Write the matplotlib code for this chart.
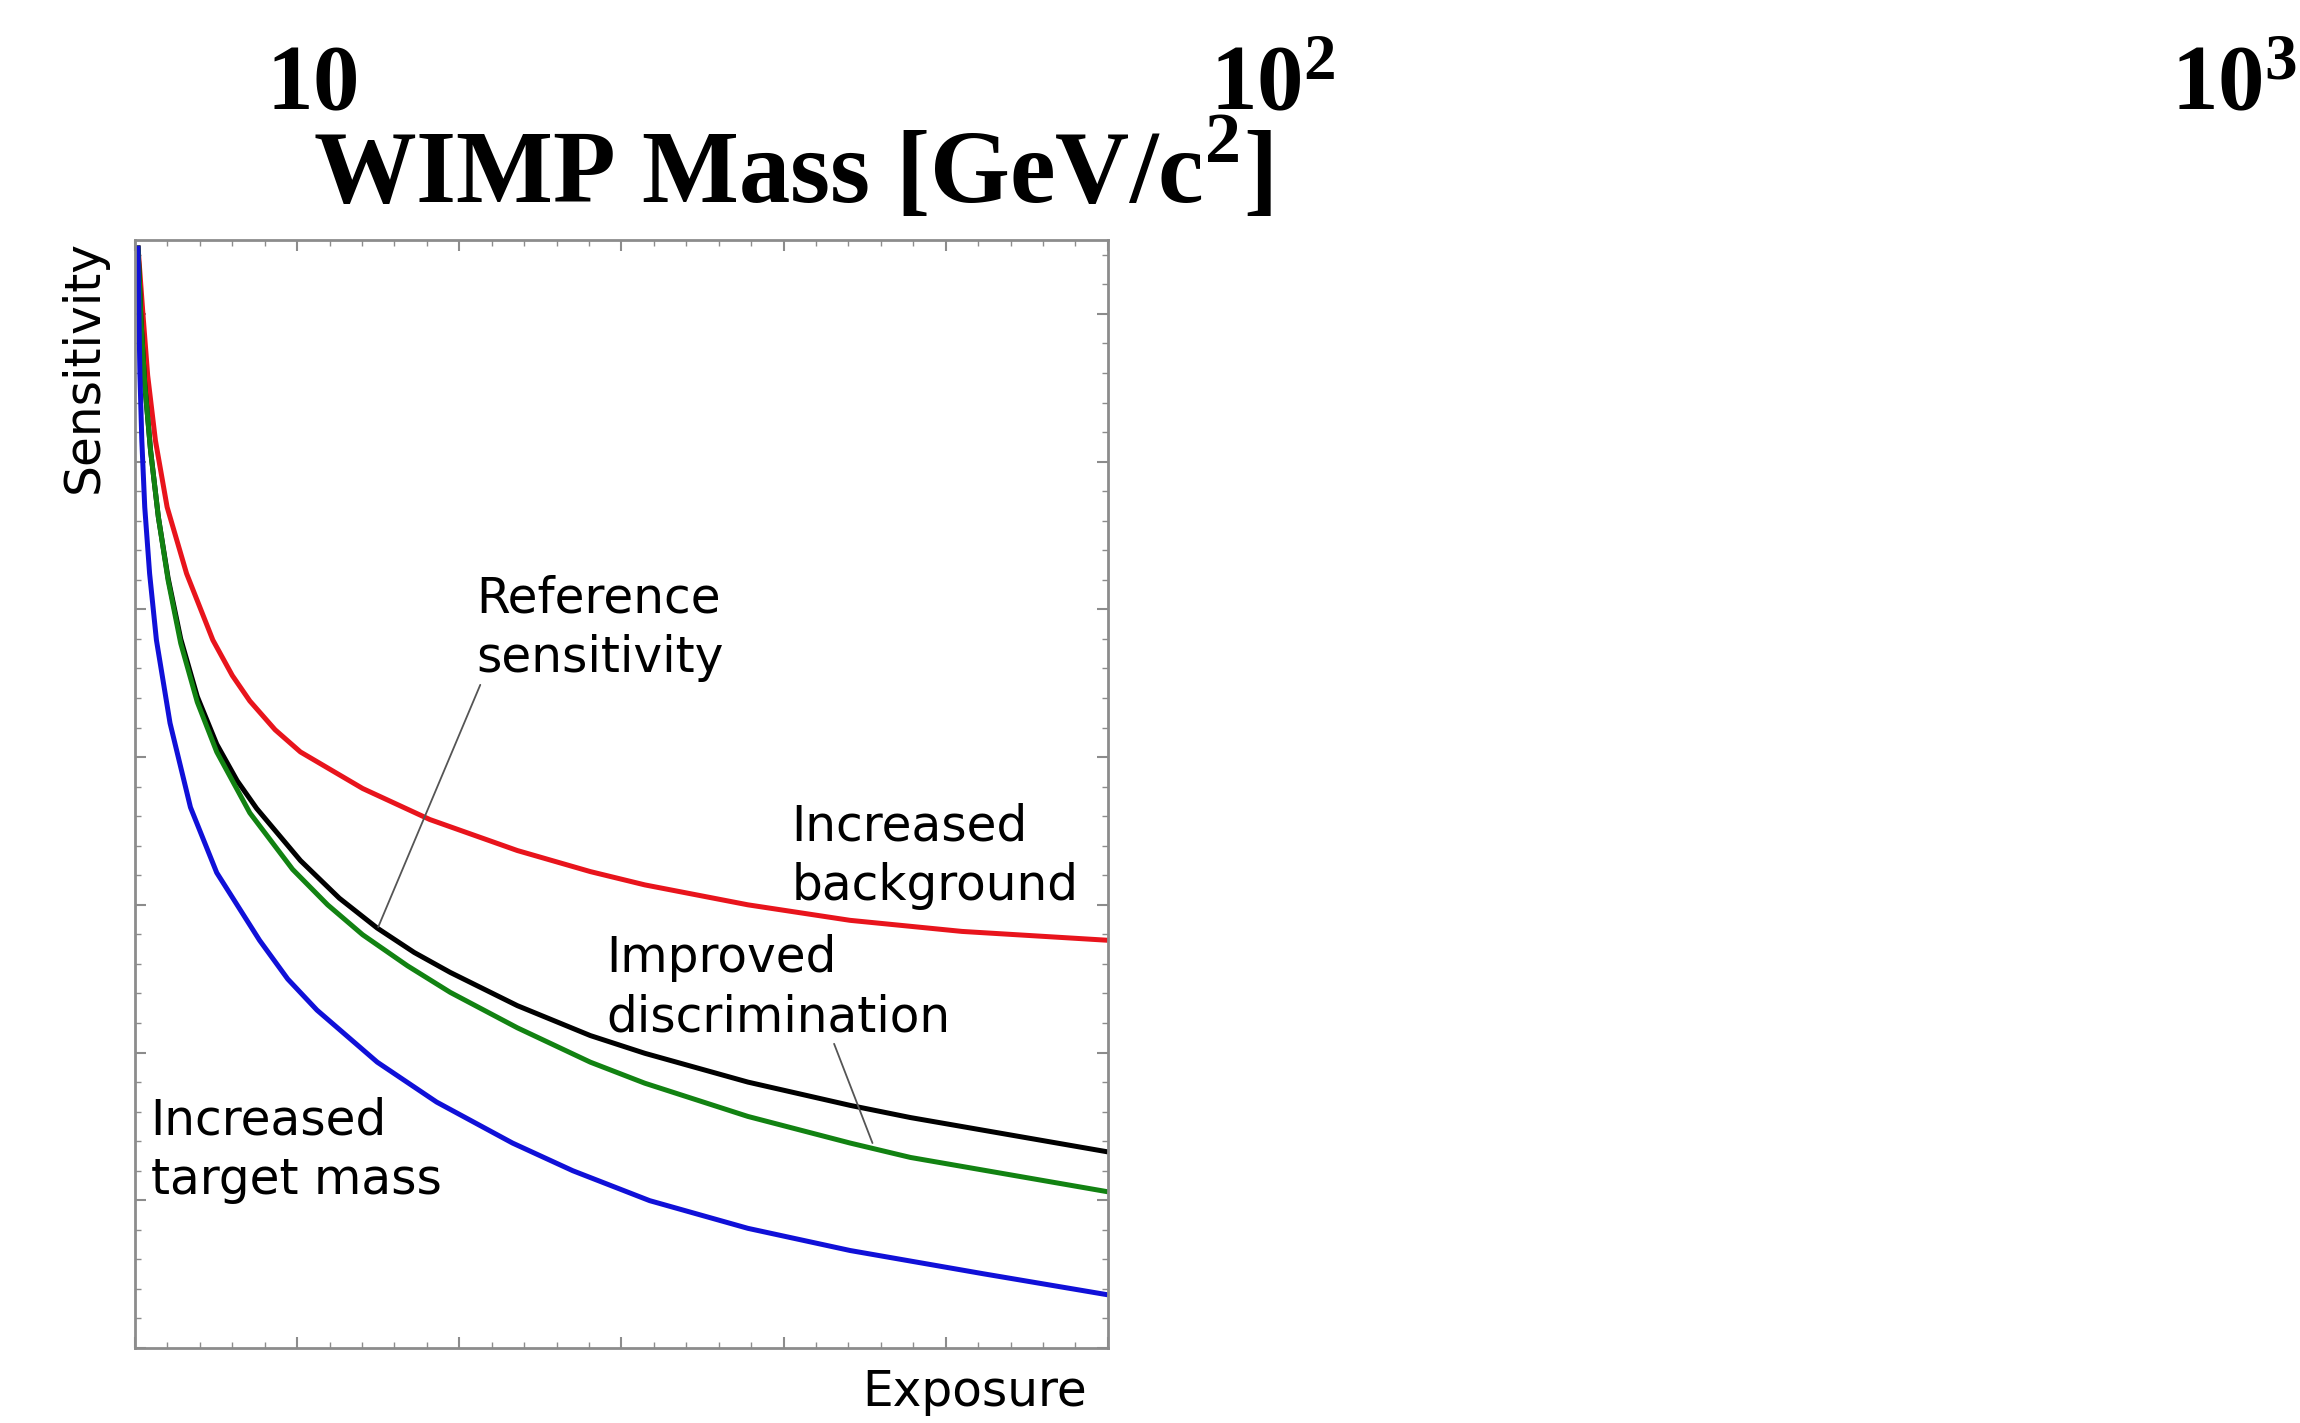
import numpy as np
import matplotlib.pyplot as plt
from matplotlib.ticker import MultipleLocator, NullLocator

plt.rcParams['mathtext.fontset'] = 'custom'
plt.rcParams['mathtext.rm'] = 'Liberation Serif'
plt.rcParams['mathtext.bf'] = 'Liberation Serif:bold'

# axe du haut : masse du WIMP (echelle log)
mass_ticks = [10, 100, 1000]
mass_labels = [r'$\mathbf{10}$', r'$\mathbf{10^{2}}$', r'$\mathbf{10^{3}}$']
mass_range = (4.74, 1171)
mass_title = r'WIMP Mass [GeV/c$^{\mathbf{2}}$]'

# courbes sensibilite / exposition (unites arbitraires)
expo_bkg = [0.003, 0.008, 0.013, 0.021, 0.033, 0.053, 0.080, 0.100, 0.118, 0.144,
            0.170, 0.234, 0.303, 0.393, 0.468, 0.524, 0.630, 0.735, 0.850, 1.0]
sens_bkg = [0.995, 0.935, 0.878, 0.819, 0.759, 0.699, 0.639, 0.607, 0.584, 0.558,
            0.538, 0.505, 0.477, 0.449, 0.430, 0.418, 0.400, 0.386, 0.376, 0.368]

expo_ref = [0.003, 0.006, 0.010, 0.016, 0.024, 0.034, 0.047, 0.064, 0.084, 0.105,
            0.125, 0.170, 0.210, 0.249, 0.287, 0.324, 0.393, 0.468, 0.524, 0.630,
            0.735, 0.797, 1.0]
sens_ref = [0.995, 0.930, 0.870, 0.810, 0.750, 0.695, 0.640, 0.588, 0.545, 0.512,
            0.487, 0.440, 0.406, 0.379, 0.357, 0.339, 0.309, 0.282, 0.266, 0.240,
            0.219, 0.208, 0.177]

expo_disc = [0.003, 0.006, 0.010, 0.016, 0.024, 0.034, 0.047, 0.064, 0.084, 0.118,
             0.162, 0.198, 0.234, 0.280, 0.324, 0.393, 0.468, 0.524, 0.630, 0.735,
             0.797, 1.0]
sens_disc = [0.995, 0.930, 0.870, 0.810, 0.750, 0.693, 0.636, 0.583, 0.538, 0.483,
             0.432, 0.400, 0.373, 0.345, 0.321, 0.289, 0.258, 0.239, 0.209, 0.185,
             0.172, 0.141]

expo_mass = [0.003, 0.004, 0.005, 0.007, 0.010, 0.015, 0.022, 0.036, 0.057, 0.084,
             0.128, 0.157, 0.187, 0.249, 0.310, 0.388, 0.450, 0.529, 0.630, 0.735,
             0.872, 1.0]
sens_mass = [0.995, 0.935, 0.880, 0.819, 0.759, 0.699, 0.639, 0.564, 0.488, 0.429,
             0.368, 0.333, 0.305, 0.258, 0.222, 0.185, 0.160, 0.133, 0.108, 0.088,
             0.067, 0.048]

fig = plt.figure(figsize=(23, 14.23), dpi=100)

# --- axe des masses (coupe en haut de l'image)
axm = fig.add_axes([0, 1.0, 1, 0.02])
axm.set_xscale('log')
axm.set_xlim(mass_range)
axm.set_xticks(mass_ticks, mass_labels)
axm.xaxis.set_minor_locator(NullLocator())
axm.set_yticks([])
axm.tick_params(axis='x', length=0, pad=79, labelsize=67)
plt.setp(axm.get_xticklabels(), va='baseline')
for s in axm.spines.values():
    s.set_visible(False)
axm.patch.set_visible(False)
axm.set_xlabel(mass_title, fontsize=74, fontfamily='Liberation Serif', fontweight='bold')
axm.xaxis.label.set_va('baseline')
axm.xaxis.set_label_coords(0.3445, -203 / 28.46)

# --- graphique sensibilite vs exposition
ax = fig.add_axes([0.0587, 0.0527, 0.4230, 0.7786])
style = dict(lw=3.6, solid_joinstyle='round', solid_capstyle='butt')
ax.plot(expo_bkg, sens_bkg, color='#e8141c', **style)
ax.plot(expo_ref, sens_ref, color='black', **style)
ax.plot(expo_disc, sens_disc, color='#128212', **style)
ax.plot(expo_mass, sens_mass, color='#1010d8', **style)
ax.set_xlim(0, 1)
ax.set_ylim(0, 1)

ax.xaxis.set_major_locator(MultipleLocator(1 / 6))
ax.xaxis.set_minor_locator(MultipleLocator(1 / 30))
ax.yaxis.set_major_locator(MultipleLocator(2 / 15))
ax.yaxis.set_minor_locator(MultipleLocator(2 / 75))
ax.tick_params(which='both', direction='in', top=True, right=True,
               labelbottom=False, labelleft=False, color='#8c8c8c')
ax.tick_params(which='major', length=8, width=1.5)
ax.tick_params(which='minor', length=4, width=1)
for s in ax.spines.values():
    s.set_color('#8c8c8c')
    s.set_linewidth(2)

fs = 35
ls = 1.3
ax.set_ylabel('Sensitivity', fontsize=fs, fontfamily='DejaVu Sans', loc='top')
ax.yaxis.set_label_coords(-0.028, 1.0)
ax.set_xlabel('Exposure', fontsize=fs, fontfamily='DejaVu Sans', loc='right')
ax.xaxis.set_label_coords(0.979, -0.018)

ax.annotate('Reference\nsensitivity', xy=(0.250, 0.380), xytext=(0.351, 0.698),
            fontsize=fs, va='top', ha='left', linespacing=ls,
            arrowprops=dict(arrowstyle='-', color='#555555', lw=1.3,
                            shrinkA=0, shrinkB=0, relpos=(0.02, 0.0)))
ax.text(0.675, 0.492, 'Increased\nbackground', fontsize=fs, va='top', ha='left', linespacing=ls)
ax.annotate('Improved\ndiscrimination', xy=(0.758, 0.185), xytext=(0.484, 0.374),
            fontsize=fs, va='top', ha='left', linespacing=ls,
            arrowprops=dict(arrowstyle='-', color='#555555', lw=1.3,
                            shrinkA=0, shrinkB=0, relpos=(0.66, 0.0)))
ax.text(0.016, 0.227, 'Increased\ntarget mass', fontsize=fs, va='top', ha='left', linespacing=ls)

fig.savefig('out.png', dpi=100)
